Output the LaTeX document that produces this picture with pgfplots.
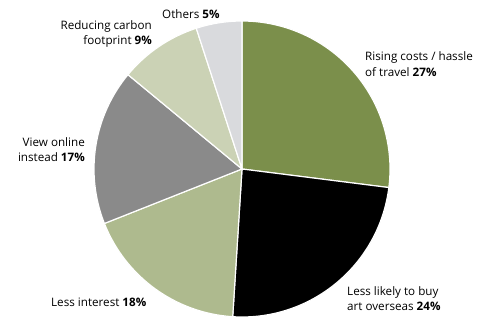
\documentclass[border=0pt]{standalone}
\usepackage{pgfplots}
\usepackage{pgfplotstable}
\pgfplotsset{compat=1.18}
\usepackage{fontspec}
\setmainfont{Open Sans}
\definecolor{cOlive}{HTML}{7B8F4B}
\definecolor{cBlack}{HTML}{000000}
\definecolor{cLgreen}{HTML}{AEBA8E}
\definecolor{cGray}{HTML}{8A8A8A}
\definecolor{cPale}{HTML}{CBD2B5}
\definecolor{cLgray}{HTML}{D9DADD}
\pgfplotstableread{
value color
27 cOlive
24 cBlack
18 cLgreen
17 cGray
9 cPale
5 cLgray
}\piedata
\begin{document}
\begin{tikzpicture}
\begin{axis}[
  width=482bp, height=320bp, scale only axis,
  xmin=0, xmax=482, ymin=0, ymax=320,
  hide axis, clip=false,
]
\path (axis cs:0,0) rectangle (axis cs:482,320);
\def\cum{90}
\pgfplotsforeachungrouped \i in {0,...,5}{%
  \pgfplotstablegetelem{\i}{value}\of\piedata \let\v\pgfplotsretval
  \pgfplotstablegetelem{\i}{color}\of\piedata \let\c\pgfplotsretval
  \pgfmathsetmacro\endang{\cum-3.6*\v}%
  \edef\temp{\noexpand\filldraw[fill=\c, draw=white, line width=1.2pt, line join=round] (axis cs:242,151) -- ++(\cum:148bp) arc[start angle=\cum, end angle=\endang, radius=148bp] -- cycle;}%
  \temp
  \global\let\cum\endang
}
\begin{scope}[every node/.style={font=\fontsize{11.7}{14}\selectfont, inner sep=0pt}]
\node[anchor=base west] at (axis cs:162,301.7) {Others \textbf{5\%}};
\node[anchor=base east] at (axis cs:152,290.5) {Reducing carbon};
\node[anchor=base east] at (axis cs:152,275) {footprint \textbf{9\%}};
\node[anchor=base west] at (axis cs:365,259) {Rising costs / hassle};
\node[anchor=base west] at (axis cs:365,243.5) {of travel \textbf{27\%}};
\node[anchor=base east] at (axis cs:85,173.3) {View online};
\node[anchor=base east] at (axis cs:85,158.3) {instead \textbf{17\%}};
\node[anchor=base west] at (axis cs:51,13) {Less interest \textbf{18\%}};
\node[anchor=base west] at (axis cs:347,24.3) {Less likely to buy};
\node[anchor=base west] at (axis cs:347,9) {art overseas \textbf{24\%}};
\end{scope}
\end{axis}
\end{tikzpicture}
\end{document}
